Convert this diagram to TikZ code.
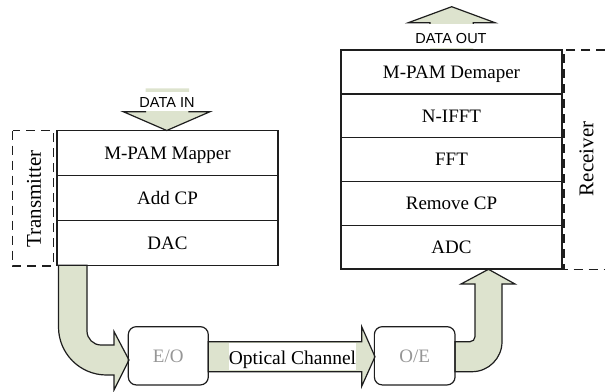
\documentclass[tikz,border=0pt]{standalone}
\usepackage{fontspec}
\setmainfont{Liberation Serif}
\newfontfamily\arialfont{Liberation Sans}
\definecolor{arrowfill}{RGB}{221,227,206}
\definecolor{grayt}{RGB}{150,150,150}
\definecolor{linec}{RGB}{30,30,30}
\begin{document}
\begin{tikzpicture}[x=1pt,y=-1pt,
  blk/.style={draw=linec, line width=1.4pt, minimum width=221pt, inner sep=0pt,
    font=\fontsize{19}{21}\selectfont, text height=12.6pt, text depth=0pt},
  grp/.style={draw=linec, line width=1.2pt, dash pattern=on 9pt off 6pt},
  grplabel/.style={rotate=90, font=\fontsize{21}{23}\selectfont, inner sep=0pt},
  conv/.style={draw=linec, line width=1.2pt, rounded corners=8pt, minimum height=58.3pt,
    inner sep=0pt, text=grayt, font=\fontsize{19}{21}\selectfont, text height=12.6pt, text depth=0pt},
  bigarrow/.style={fill=arrowfill, draw=linec, line width=1.2pt, line join=miter},
  datalabel/.style={font=\arialfont\fontsize{14.5}{16}\selectfont, inner sep=0pt, anchor=base}
]
\useasboundingbox (0,0) rectangle (605,391);

% ---- block arrows (drawn first) ----
% DAC -> E/O
\path[bigarrow] (58.5,265.3) -- (58.5,327) arc[start angle=180,end angle=90,radius=48]
  -- (114,375) -- (114,390) -- (129,360) -- (114,331.5) -- (114,345) -- (101,345)
  arc[start angle=90,end angle=180,radius=14] -- (87,265.3) -- cycle;
% E/O -> O/E
\path[bigarrow] (208.3,341.7) -- (361.7,341.7) -- (361.7,326.7) -- (375,356.7)
  -- (361.7,386.3) -- (361.7,371.7) -- (208.3,371.7) -- cycle;
% O/E -> ADC
\path[bigarrow] (455,341.7) -- (470,341.7) arc[start angle=90,end angle=0,radius=5]
  -- (475,284) -- (461,284) -- (488.5,269.3) -- (515,284) -- (502,284) -- (502,341.7)
  arc[start angle=0,end angle=90,radius=30] -- (455,371.7) -- cycle;

% DATA IN arrow
\fill[arrowfill] (145.5,88.3) -- (145.5,111.7) -- (123.3,111.7) -- (166.7,130.5)
  -- (210,111.7) -- (189,111.7) -- (189,88.3) -- cycle;
\draw[linec, line width=1.2pt] (145.5,100) -- (145.5,111.7) -- (123.3,111.7) -- (166.7,130.5)
  -- (210,111.7) -- (189,111.7) -- (189,100);
\fill[white] (139,91.7) rectangle (195,110.8);
\node[datalabel] (din) at (167,107.3) {DATA IN};

% DATA OUT arrow
\fill[arrowfill] (430,49.3) -- (430,22.7) -- (408.3,22.7) -- (451.7,6.7) -- (495,22.7)
  -- (473.3,22.7) -- (473.3,49.3) -- cycle;
\draw[linec, line width=1.2pt] (430,35) -- (430,22.7) -- (408.3,22.7) -- (451.7,6.7) -- (495,22.7)
  -- (473.3,22.7) -- (473.3,35);
\fill[white] (413,23.6) rectangle (489,48);
\node[datalabel] (dout) at (451,43.7) {DATA OUT};

% ---- transmitter stack ----
\node[blk, minimum height=44.9pt] (mapper) at (167.5,153.1) {M-PAM Mapper};
\node[blk, minimum height=44.9pt] (addcp)  at (167.5,198.0) {Add CP};
\node[blk, minimum height=44.9pt] (dac)    at (167.5,242.9) {DAC};

% ---- receiver stack ----
\node[blk, minimum height=43.8pt] (demap) at (451.5,71.9)  {M-PAM Demaper};
\node[blk, minimum height=43.8pt] (nifft) at (451.5,115.7) {N-IFFT};
\node[blk, minimum height=43.8pt] (fft)   at (451.5,159.5) {FFT};
\node[blk, minimum height=43.8pt] (rmcp)  at (451.5,203.3) {Remove CP};
\node[blk, minimum height=43.8pt] (adc)   at (451.5,247.1) {ADC};

% ---- group frames ----
\draw[grp] (12.7,130.7) rectangle (53.5,266);
\node[grplabel] (tx) at (34,199) {Transmitter};
\draw[grp] (605,50) -- (564,50) -- (564,269.5) -- (605,269.5);
\node[grplabel] (rx) at (586.5,159) {Receiver};

% ---- converters ----
\node[conv, minimum width=80pt]   (eo) at (168.3,355.8) {E/O};
\node[conv, minimum width=80.7pt] (oe) at (414.7,355.8) {O/E};

% channel label
\fill[white] (229,343.3) rectangle (356,369.8);
\node[font=\fontsize{19.5}{21}\selectfont, inner sep=0pt, anchor=base] (och) at (292.5,364.5) {Optical Channel};
\end{tikzpicture}
\end{document}
